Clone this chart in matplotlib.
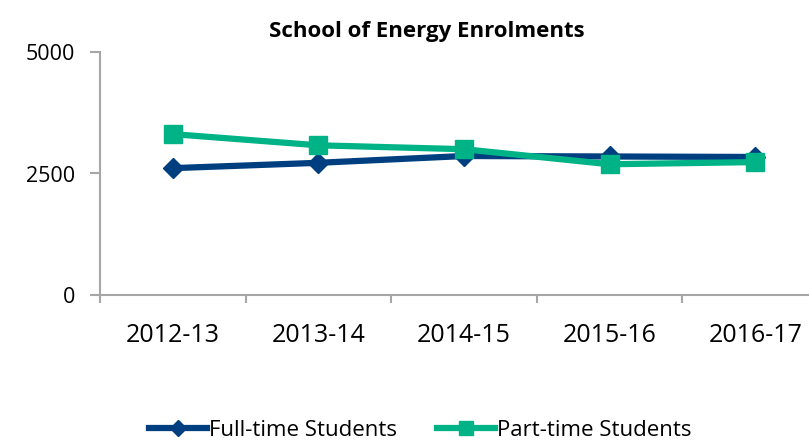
import matplotlib
matplotlib.use('Agg')
import matplotlib.pyplot as plt
from matplotlib.lines import Line2D

# -- data ---------------------------------------------------------------------
years = ['2012-13', '2013-14', '2014-15', '2015-16', '2016-17']
full_time = [2610, 2720, 2860, 2850, 2840]
part_time = [3310, 3080, 3000, 2690, 2735]

NAVY = '#003F7F'
GREEN = '#00B386'
AXIS = '#A6A6A6'

plt.rcParams['font.family'] = ['Open Sans', 'DejaVu Sans']

fig = plt.figure(figsize=(8.09, 4.43), dpi=100)
# axes runs a bit past the right edge, as in the reference crop
ax = fig.add_axes([100 / 809, 1 - 295 / 443, 728 / 809, 243 / 443])

x = list(range(len(years)))
ax.plot(x, full_time, color=NAVY, lw=4.5, marker='D', ms=10,
        mfc=NAVY, mec=NAVY, zorder=3)
ax.plot(x, part_time, color=GREEN, lw=4.5, marker='s', ms=13,
        mfc=GREEN, mec=GREEN, zorder=4)

ax.set_xlim(-0.5, len(years) - 0.5)
ax.set_ylim(0, 5000)
ax.set_yticks([0, 2500, 5000])

# category labels centred, tick marks between categories
ax.set_xticks([i - 0.5 for i in range(len(years) + 1)])
ax.set_xticklabels([])
ax.set_xticks(x, minor=True)
ax.set_xticklabels(years, minor=True, fontsize=18)
ax.tick_params(axis='x', which='minor', length=0, pad=20)
ax.tick_params(axis='x', which='major', length=6, width=1.5, color=AXIS, direction='out')
ax.tick_params(axis='y', length=7, width=1.5, color=AXIS, labelsize=15.5, pad=11)

for s in ['top', 'right']:
    ax.spines[s].set_visible(False)
for s in ['left', 'bottom']:
    ax.spines[s].set_color(AXIS)
    ax.spines[s].set_linewidth(1.5)

fig.text(427 / 809, 1 - 32 / 443, 'School of Energy Enrolments',
         ha='center', va='center', fontsize=16, fontweight='bold')

handles = [
    Line2D([], [], color=NAVY, lw=4.5, marker='D', ms=8, mfc=NAVY, mec=NAVY),
    Line2D([], [], color=GREEN, lw=4.5, marker='s', ms=10, mfc=GREEN, mec=GREEN),
]
fig.legend(handles, ['Full-time Students', 'Part-time Students'],
           loc='center', bbox_to_anchor=(420 / 809, 1 - 430 / 443),
           ncol=2, frameon=False, fontsize=16, handlelength=2.6,
           handletextpad=0.1, columnspacing=1.8, borderpad=0.1)

fig.savefig('out.png', dpi=100)
